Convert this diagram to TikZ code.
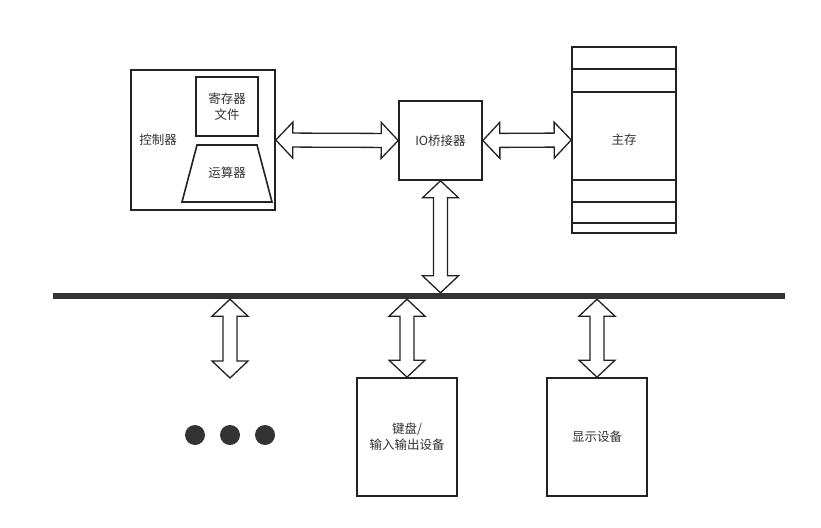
\documentclass[tikz,border=0pt]{standalone}
\usepackage{fontspec}
\newfontfamily\cjk{Noto Sans CJK SC}
\usetikzlibrary{calc}
\definecolor{ink}{HTML}{222222}
\definecolor{bar}{HTML}{333333}
\definecolor{txt}{HTML}{333333}
\tikzset{
  box/.style={draw=ink, line width=1.6pt, fill=white, rectangle, inner sep=0pt},
  lbl/.style={text=txt, font=\cjk\fontsize{12.5}{16}\selectfont, align=center, inner sep=0pt},
  hollow/.style={draw=ink, line width=1.3pt, fill=white, line join=miter},
  dot/.style={circle, fill=bar, minimum size=20pt, inner sep=0pt},
}
% two-headed hollow arrow between two named points
\newcommand\hollowlink[2]{%
  \coordinate (na) at ($(#1)!17pt!(#2)$);
  \coordinate (nb) at ($(#2)!17pt!(#1)$);
  \draw[hollow] (#1) -- ($(na)!18pt!90:(#2)$) -- ($(na)!7pt!90:(#2)$)
    -- ($(nb)!7pt!-90:(#1)$) -- ($(nb)!18pt!-90:(#1)$) -- (#2)
    -- ($(nb)!18pt!90:(#1)$) -- ($(nb)!7pt!90:(#1)$)
    -- ($(na)!7pt!-90:(#2)$) -- ($(na)!18pt!-90:(#2)$) -- cycle;
}
\begin{document}
\begin{tikzpicture}[x=1pt, y=-1pt]
\useasboundingbox (0,0) rectangle (821,527);

% CPU block
\node[box, minimum width=144pt, minimum height=140pt] (ctrl) at (203,140) {};
\node[lbl] (ctrltext) at (158,140) {控制器};
\node[box, minimum width=62pt, minimum height=59pt, lbl] (reg) at (227,106.5) {\baselineskip=16pt 寄存器\\文件};
\draw[draw=ink, line width=1.6pt] (197,145) -- (257,145) -- (272,202) -- (182,202) -- cycle;
\node[lbl] (alu) at (227,173) {运算器};

% bridge and memory
\node[box, minimum width=83pt, minimum height=79pt, lbl] (io) at (440.5,140.5) {IO桥接器};
\node[box, minimum width=104pt, minimum height=186pt, lbl] (mem) at (624,140) {主存};
\foreach \yy in {69,92,180,202,223}
  \draw[draw=ink, line width=1.4pt] (mem.west |- 0,\yy) -- (mem.east |- 0,\yy);

% system bus
\node[fill=bar, minimum width=732pt, minimum height=6pt, inner sep=0pt] (bus) at (419,296) {};

% devices
\node[box, minimum width=100pt, minimum height=118pt, lbl] (kbd) at (407,437) {\baselineskip=18pt 键盘/\\输入输出设备};
\node[box, minimum width=100pt, minimum height=118pt, lbl] (disp) at (597,437) {显示设备};
\coordinate (more) at (230,378);
\node[dot] (d1) at (195,435) {};
\node[dot] (d2) at (230,435) {};
\node[dot] (d3) at (265,435) {};

% links
\hollowlink{ctrl.east}{io.west}
\hollowlink{io.east}{mem.west}
\coordinate (bio) at (io.south |- bus.north);
\hollowlink{io.south}{bio}
\coordinate (bmore) at (bus.south -| more);
\hollowlink{bmore}{more}
\coordinate (bkbd) at (bus.south -| kbd.north);
\hollowlink{bkbd}{kbd.north}
\coordinate (bdisp) at (bus.south -| disp.north);
\hollowlink{bdisp}{disp.north}
\end{tikzpicture}
\end{document}
